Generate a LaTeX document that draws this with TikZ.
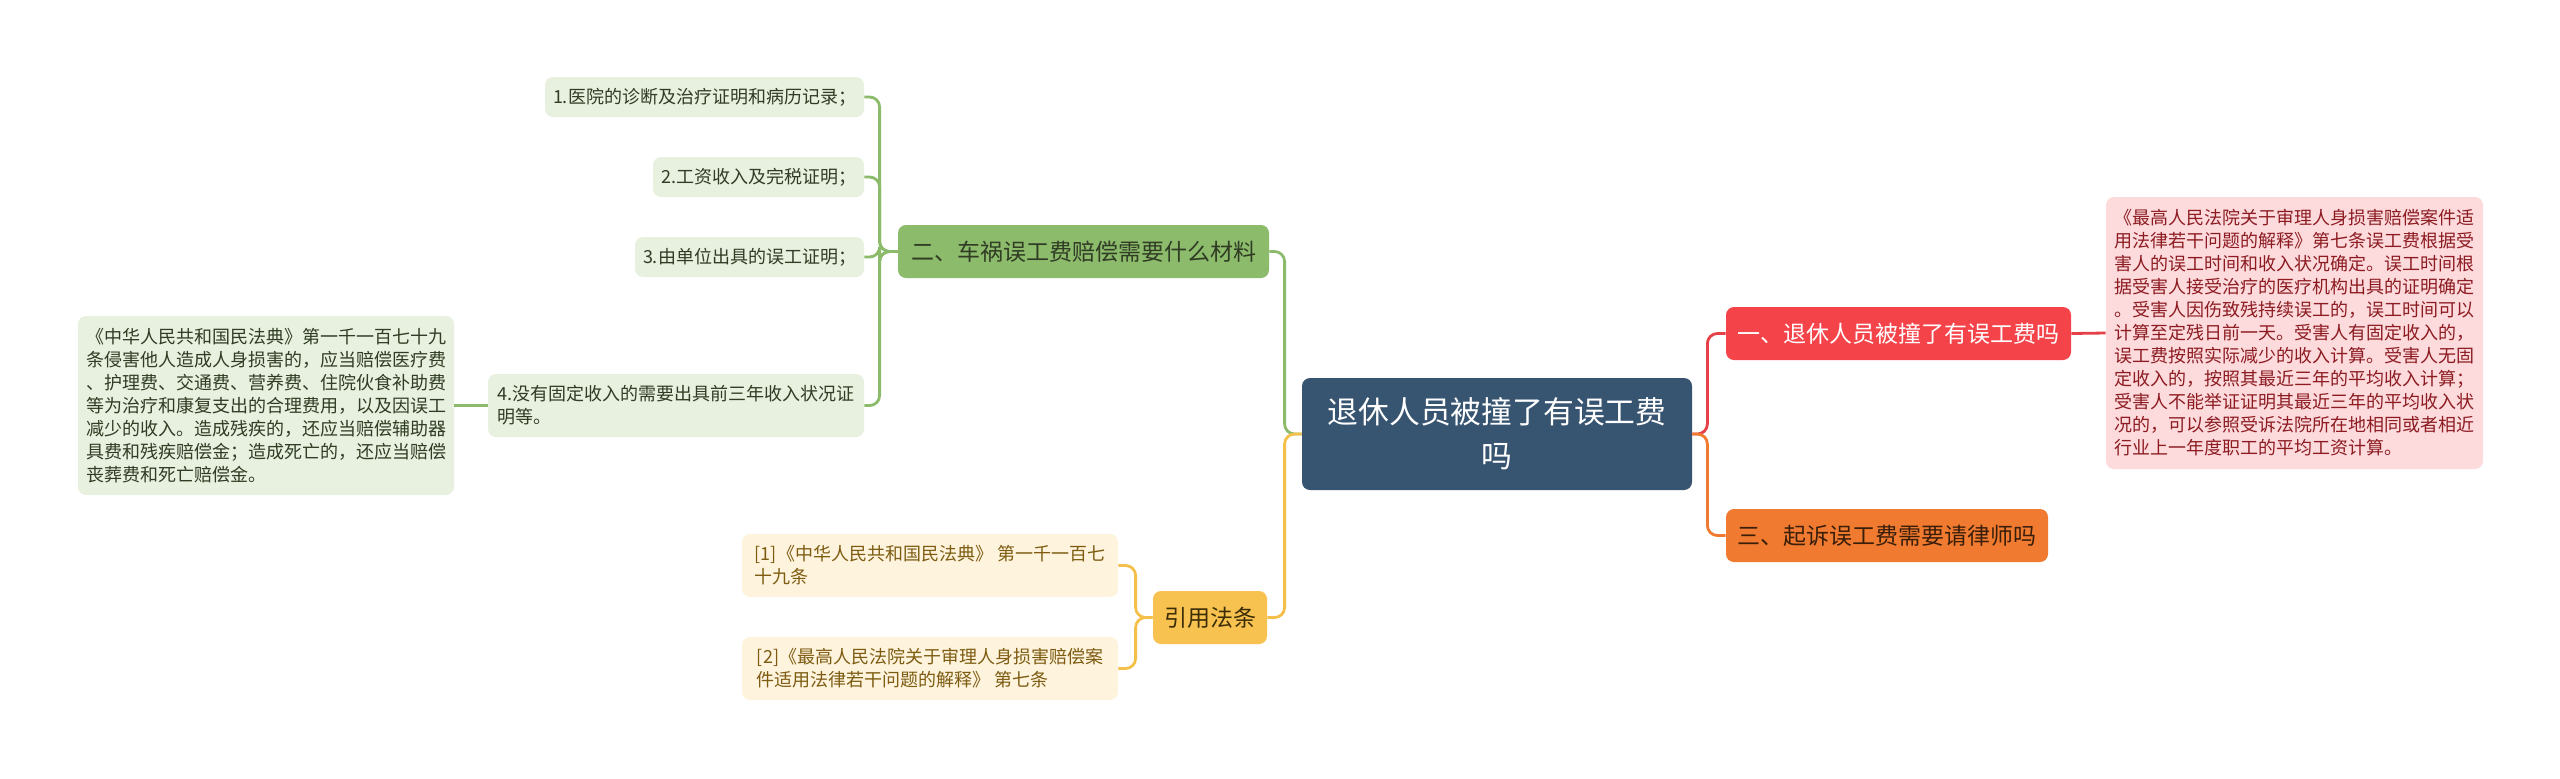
\documentclass[tikz,border=0pt]{standalone}
\usepackage{fontspec}
\setmainfont{Noto Sans CJK SC}
\usepackage{xcolor}

\definecolor{rootblue}{RGB}{55,84,112}
\definecolor{redtopic}{RGB}{245,67,74}
\definecolor{redline}{RGB}{230,64,72}
\definecolor{pinkleaf}{RGB}{253,218,220}
\definecolor{pinktext}{RGB}{140,28,34}
\definecolor{orangetopic}{RGB}{240,123,48}
\definecolor{orangetext}{RGB}{58,30,10}
\definecolor{greentopic}{RGB}{140,187,108}
\definecolor{greenline}{RGB}{140,187,108}
\definecolor{greenleaf}{RGB}{232,240,223}
\definecolor{greentext}{RGB}{48,60,36}
\definecolor{yellowtopic}{RGB}{247,194,80}
\definecolor{yellowline}{RGB}{245,192,74}
\definecolor{yellowleaf}{RGB}{254,243,220}
\definecolor{yellowtext}{RGB}{125,92,18}
\definecolor{yellowdark}{RGB}{60,45,5}

\newcommand{\rootfont}{\fontsize{15.4}{22}\selectfont}
\newcommand{\topicfont}{\fontsize{11.5}{14}\selectfont}
\newcommand{\leaffont}{\fontsize{9}{11.5}\selectfont}

\begin{document}
\begin{tikzpicture}[x=0.5pt, y=-0.5pt,
  box/.style={rounded corners=4pt, inner sep=0pt, align=center},
  rootbox/.style={box, fill=rootblue, text=white, minimum width=195pt, minimum height=56pt, font=\rootfont},
  topic/.style={box, minimum height=26.5pt, font=\topicfont},
  leaf/.style={box, align=left, font=\leaffont},
  greenbox/.style={leaf, fill=greenleaf, text=greentext, minimum height=20pt},
  yellowbox/.style={leaf, fill=yellowleaf, text=yellowtext, minimum width=188pt, minimum height=31.5pt},
  link/.style={line width=1.4pt, rounded corners=5pt}]

  \useasboundingbox (0,0) rectangle (2560,778);

  % root
  \node[rootbox] (root) at (1497,434) {退休人员被撞了有误工费\\吗};

  % right side
  \node[topic, fill=redtopic, text=white, minimum width=172.5pt] (t1) at (1898.5,333.5) {一、退休人员被撞了有误工费吗};
  \node[leaf, fill=pinkleaf, text=pinktext, minimum width=188.5pt, minimum height=136pt] (t1a) at (2294.5,333) {《最高人民法院关于审理人身损害赔偿案件适\\用法律若干问题的解释》第七条误工费根据受\\害人的误工时间和收入状况确定。误工时间根\\据受害人接受治疗的医疗机构出具的证明确定\\。受害人因伤致残持续误工的，误工时间可以\\计算至定残日前一天。受害人有固定收入的，\\误工费按照实际减少的收入计算。受害人无固\\定收入的，按照其最近三年的平均收入计算；\\受害人不能举证证明其最近三年的平均收入状\\况的，可以参照受诉法院所在地相同或者相近\\行业上一年度职工的平均工资计算。};
  \node[topic, fill=orangetopic, text=orangetext, minimum width=161pt] (t3) at (1887,535.5) {三、起诉误工费需要请律师吗};

  % left side, materials
  \node[topic, fill=greentopic, text=greentext, minimum width=185.5pt] (t2) at (1083.5,251.5) {二、车祸误工费赔偿需要什么材料};
  \node[greenbox, minimum width=159.5pt] (g1) at (704.5,97) {1.医院的诊断及治疗证明和病历记录；};
  \node[greenbox, minimum width=105.5pt] (g2) at (758.5,177) {2.工资收入及完税证明；};
  \node[greenbox, minimum width=114.5pt] (g3) at (749.5,257) {3.由单位出具的误工证明；};
  \node[greenbox, minimum width=188pt, minimum height=31.5pt] (g4) at (676,405.5) {4.没有固定收入的需要出具前三年收入状况证\\明等。};
  \node[greenbox, minimum width=188pt, minimum height=89.5pt] (g4a) at (266,405.5) {《中华人民共和国民法典》第一千一百七十九\\条侵害他人造成人身损害的，应当赔偿医疗费\\、护理费、交通费、营养费、住院伙食补助费\\等为治疗和康复支出的合理费用，以及因误工\\减少的收入。造成残疾的，还应当赔偿辅助器\\具费和残疾赔偿金；造成死亡的，还应当赔偿\\丧葬费和死亡赔偿金。};

  % left side, references
  \node[topic, fill=yellowtopic, text=yellowdark, minimum width=57pt] (ref) at (1210,617.5) {引用法条};
  \node[yellowbox] (r1) at (930,565.5) {[1]《中华人民共和国民法典》 第一千一百七\\十九条};
  \node[yellowbox] (r2) at (930,668.5) {[2]《最高人民法院关于审理人身损害赔偿案\\件适用法律若干问题的解释》 第七条};

  % connectors
  \draw[link, draw=redline] (root.east) -- ++(15,0) |- (t1.west);
  \draw[link, draw=orangetopic] (root.east) -- ++(15,0) |- (t3.west);
  \draw[link, draw=redline] (t1.east) -- (t1a.west);
  \draw[link, draw=greenline] (root.west) -- ++(-17,0) |- (t2.east);
  \draw[link, draw=yellowline] (root.west) -- ++(-17,0) |- (ref.east);
  \foreach \c in {g1,g2,g3,g4}
    \draw[link, draw=greenline] (t2.west) -- ++(-18,0) |- (\c.east);
  \draw[link, draw=greenline] (g4.west) -- (g4a.east);
  \foreach \c in {r1,r2}
    \draw[link, draw=yellowline] (ref.west) -- ++(-17,0) |- (\c.east);
\end{tikzpicture}
\end{document}
